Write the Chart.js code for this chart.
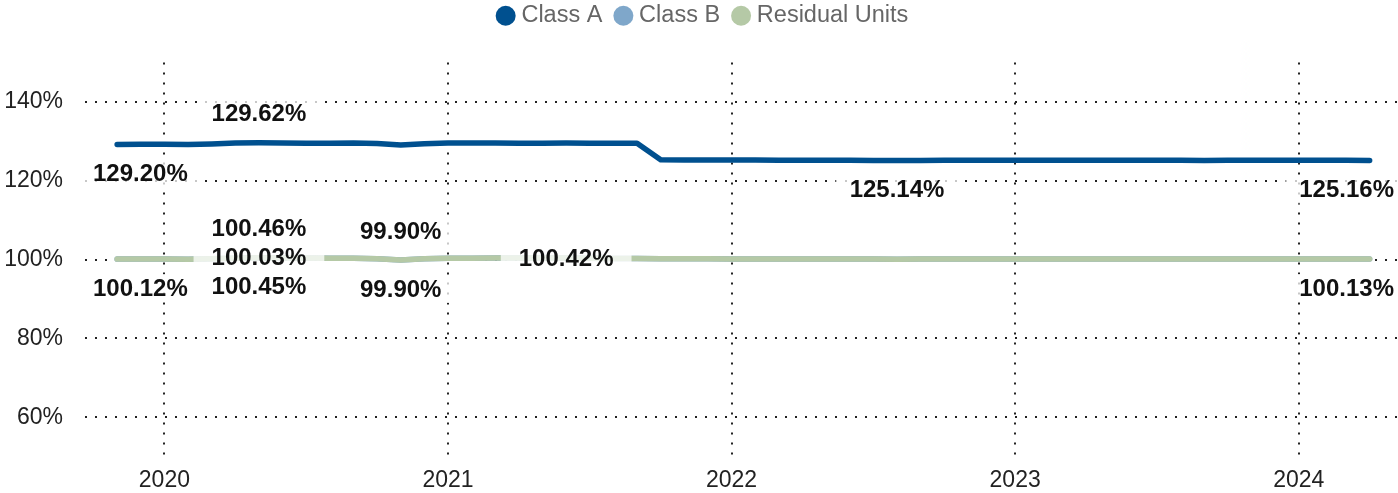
<!DOCTYPE html>
<html>
<head>
<meta charset="utf-8">
<script src="https://cdn.jsdelivr.net/npm/chart.js@4/dist/chart.umd.min.js"></script>
<style>
  body { margin: 0; background: #fff; }
  #wrap { width: 1398px; height: 493px; }
</style>
</head>
<body>
<div id="wrap"><canvas id="navChart"></canvas></div>
<script>
// monthly observations, Nov 2019 - Apr 2024
const months = [
    '2019-11', '2019-12',
    '2020-01', '2020-02', '2020-03', '2020-04', '2020-05', '2020-06', '2020-07', '2020-08', '2020-09', '2020-10', '2020-11', '2020-12',
    '2021-01', '2021-02', '2021-03', '2021-04', '2021-05', '2021-06', '2021-07', '2021-08', '2021-09', '2021-10', '2021-11', '2021-12',
    '2022-01', '2022-02', '2022-03', '2022-04', '2022-05', '2022-06', '2022-07', '2022-08', '2022-09', '2022-10', '2022-11', '2022-12',
    '2023-01', '2023-02', '2023-03', '2023-04', '2023-05', '2023-06', '2023-07', '2023-08', '2023-09', '2023-10', '2023-11', '2023-12',
    '2024-01', '2024-02', '2024-03', '2024-04'
]

const classA = [
    129.20, 129.28,
    129.25, 129.22, 129.35, 129.55, 129.62, 129.58, 129.52, 129.50, 129.55, 129.45, 129.05, 129.40,
    129.55, 129.58, 129.55, 129.50, 129.52, 129.55, 129.52, 129.50, 129.52, 125.30, 125.28, 125.27,
    125.28, 125.25, 125.22, 125.20, 125.18, 125.17, 125.15, 125.14, 125.16, 125.18, 125.17, 125.18,
    125.20, 125.19, 125.18, 125.20, 125.18, 125.17, 125.19, 125.18, 125.16, 125.18, 125.19, 125.17,
    125.18, 125.17, 125.18, 125.16
]

const classB = [
    100.12, 100.15,
    100.13, 100.11, 100.20, 100.35, 100.46, 100.42, 100.38, 100.36, 100.33, 100.22, 99.90, 100.20,
    100.32, 100.36, 100.38, 100.40, 100.41, 100.42, 100.36, 100.30, 100.26, 100.22, 100.20, 100.19,
    100.18, 100.16, 100.15, 100.14, 100.13, 100.12, 100.12, 100.11, 100.12, 100.13, 100.13, 100.14,
    100.14, 100.13, 100.13, 100.14, 100.13, 100.12, 100.13, 100.13, 100.12, 100.13, 100.14, 100.13,
    100.13, 100.12, 100.13, 100.13
]

const residualUnits = [
    100.12, 100.15,
    100.13, 100.11, 100.20, 100.34, 100.45, 100.41, 100.38, 100.36, 100.33, 100.22, 99.90, 100.20,
    100.32, 100.36, 100.38, 100.40, 100.41, 100.42, 100.36, 100.30, 100.26, 100.22, 100.20, 100.19,
    100.18, 100.16, 100.15, 100.14, 100.13, 100.12, 100.12, 100.11, 100.12, 100.13, 100.13, 100.14,
    100.14, 100.13, 100.13, 100.14, 100.13, 100.12, 100.13, 100.13, 100.12, 100.13, 100.14, 100.13,
    100.13, 100.12, 100.13, 100.13
]

const yearTicks = [2020, 2021, 2022, 2023, 2024]
const percentTicks = [60, 80, 100, 120, 140]

// value labels as printed on the chart: dataset, month index, text, placement
const pointLabels = [
    { ds: 0, i: 0, text: '129.20%', pos: 'below' },
    { ds: 0, i: 6, text: '129.62%', pos: 'above' },
    { ds: 0, i: 33, text: '125.14%', pos: 'below' },
    { ds: 0, i: 53, text: '125.16%', pos: 'below' },
    { ds: 1, i: 0, text: '100.12%', pos: 'below' },
    { ds: 1, i: 6, text: '100.46%', pos: 'above' },
    { ds: 1, i: 12, text: '99.90%', pos: 'above' },
    { ds: 1, i: 53, text: '100.13%', pos: 'below' },
    { ds: 2, i: 6, text: '100.03%', pos: 'center' },
    { ds: 2, i: 6, text: '100.45%', pos: 'below' },
    { ds: 2, i: 12, text: '99.90%', pos: 'below' },
    { ds: 2, i: 19, text: '100.42%', pos: 'center' }
]

const toYear = m => Number(m.slice(0, 4)) + (Number(m.slice(5, 7)) - 1) / 12
const points = values => values.map((v, i) => ({ x: toYear(months[i]), y: v }))

Chart.defaults.font.family = "'Liberation Sans', Arial, sans-serif"
Chart.defaults.color = '#666'

// push the plot area down under the legend, nudge legend to the right
const legendSpace = {
    id: 'legendSpace',
    beforeInit(chart) {
        const fit = chart.legend.fit
        chart.legend.fit = function () {
            fit.bind(chart.legend)()
            this.height += 25
        }
    },
    afterLayout(chart) {
        chart.legend.left += 6
        chart.legend.right += 6
    }
}

const valueLabels = {
    id: 'valueLabels',
    afterDatasetsDraw(chart) {
        const { ctx, chartArea } = chart
        ctx.save()
        ctx.font = "bold 24px 'Liberation Sans', Arial, sans-serif"
        ctx.textBaseline = 'middle'
        ctx.textAlign = 'left'
        pointLabels.forEach(l => {
            const pt = chart.getDatasetMeta(l.ds).data[l.i]
            const w = ctx.measureText(l.text).width
            let x = pt.x - w / 2
            x = Math.max(chartArea.left + 8, Math.min(x, chart.width - 4 - w))
            const y = pt.y + (l.pos === 'above' ? -29 : l.pos === 'below' ? 29 : 0)
            const padX = l.pos === 'center' ? 18 : 14
            ctx.fillStyle = 'rgba(255, 255, 255, 0.75)'
            ctx.fillRect(x - padX, y - 14, w + padX * 2, 28)
            ctx.fillStyle = '#111'
            ctx.fillText(l.text, x, y + 1)
        })
        ctx.restore()
    }
}

const lineStyle = color => ({
    borderColor: color,
    backgroundColor: color,
    borderWidth: 5.5,
    borderCapStyle: 'round',
    borderJoinStyle: 'round',
    pointRadius: 0,
    tension: 0,
    fill: false
})

new Chart(document.getElementById('navChart').getContext('2d'), {
    type: 'line',
    data: {
        datasets: [
            { label: 'Class A', data: points(classA), order: 1, ...lineStyle('#00508f') },
            { label: 'Class B', data: points(classB), order: 3, ...lineStyle('#7fa7ca') },
            { label: 'Residual Units', data: points(residualUnits), order: 2, ...lineStyle('#b5c9a6') }
        ]
    },
    options: {
        responsive: true,
        maintainAspectRatio: false,
        animation: false,
        layout: { padding: { top: -13, left: 0, right: 0, bottom: -6 } },
        plugins: {
            tooltip: { enabled: false },
            legend: {
                position: 'top',
                labels: {
                    usePointStyle: true,
                    pointStyle: 'circle',
                    boxWidth: 8,
                    boxHeight: 14.14,
                    padding: 17,
                    color: '#666',
                    font: { size: 23.5 },
                    sort: (a, b) => a.datasetIndex - b.datasetIndex,
                    generateLabels: chart => Chart.defaults.plugins.legend.labels.generateLabels(chart)
                        .map(item => ({ ...item, lineWidth: 0 }))
                }
            }
        },
        scales: {
            x: {
                type: 'linear',
                min: 2019.72,
                max: 2024.35,
                afterBuildTicks: scale => { scale.ticks = yearTicks.map(v => ({ value: v })) },
                ticks: {
                    color: '#222',
                    font: { size: 23 },
                    padding: 5,
                    callback: v => String(v)
                },
                grid: { color: '#222', lineWidth: 2, drawTicks: false },
                border: { display: false, dash: [2, 8] }
            },
            y: {
                min: 48.8,
                max: 150,
                afterBuildTicks: scale => { scale.ticks = percentTicks.map(v => ({ value: v })) },
                afterFit: scale => {
                    scale.width = 85
                    scale.paddingTop = 0
                    scale.paddingBottom = 0
                },
                ticks: {
                    color: '#222',
                    font: { size: 23 },
                    padding: 22,
                    callback: v => v + '%'
                },
                grid: { color: '#222', lineWidth: 2, drawTicks: false },
                border: { display: false, dash: [2, 8] }
            }
        }
    },
    plugins: [legendSpace, valueLabels]
})
</script>
</body>
</html>
